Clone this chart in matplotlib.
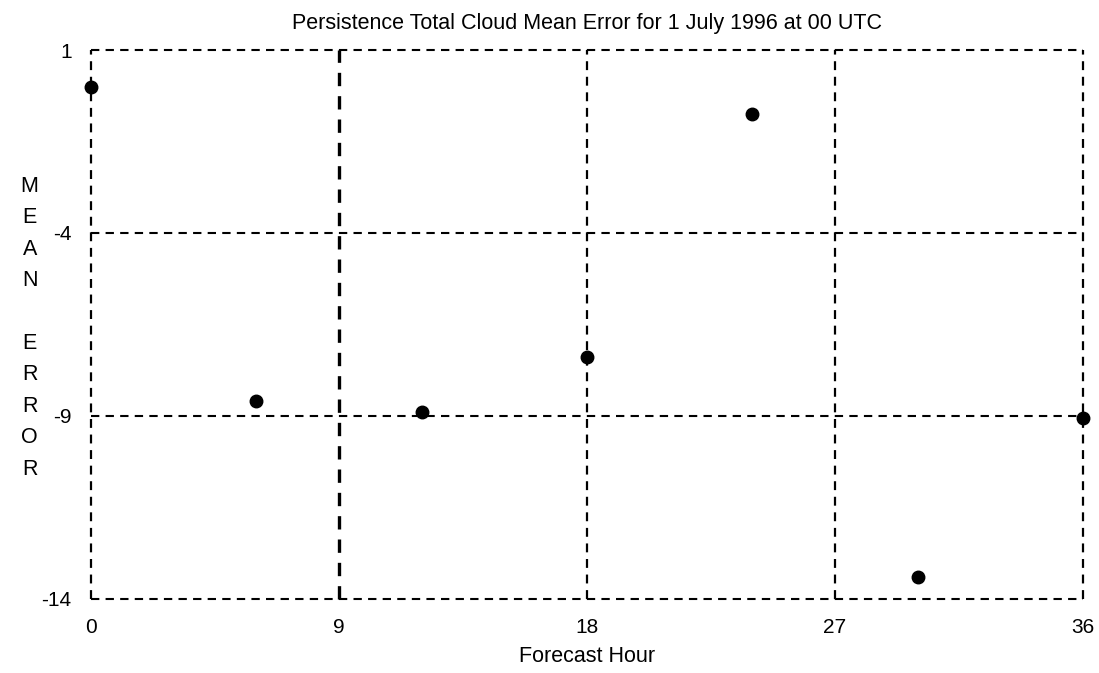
import matplotlib.pyplot as plt
import numpy as np

hours = [0, 6, 12, 18, 24, 30, 36]
mean_error = [0.0, -8.6, -8.9, -7.4, -0.75, -13.4, -9.05]
x_ticks = [0, 9, 18, 27, 36]
y_ticks = [1, -4, -9, -14]

plt.rcParams['font.family'] = ['Liberation Sans', 'DejaVu Sans']
plt.rcParams['axes.unicode_minus'] = False

fig = plt.figure(figsize=(10.99, 6.73), dpi=100)
ax = fig.add_axes([0.0828, 0.110, 0.9026, 0.8157])

ax.set_xlim(0, 36)
ax.set_ylim(-14, 1)
ax.set_xticks(x_ticks)
ax.set_yticks(y_ticks)
ax.tick_params(length=0, labelsize=15, pad=14)

for x in x_ticks:
	ax.axvline(x, color='black', ls=(0, (4, 3)), lw=2.4 if x == 9 else 1.6, clip_on=False, zorder=1)
for y in y_ticks:
	ax.axhline(y, color='black', ls=(0, (4, 3)), lw=1.5, clip_on=False, zorder=1)
for s in ax.spines.values():
	s.set_visible(False)

ax.plot(hours, mean_error, 'o', color='black', ms=9, clip_on=False, zorder=3)

ax.set_title('Persistence Total Cloud Mean Error for 1 July 1996 at 00 UTC', fontsize=15.5, pad=15)
ax.set_xlabel('Forecast Hour', fontsize=15.5, labelpad=6)
fig.text(0.027, 0.513, 'M\nE\nA\nN\n\nE\nR\nR\nO\nR', fontsize=15.5, ha='center', va='center', linespacing=1.65)

plt.savefig('out.png')
